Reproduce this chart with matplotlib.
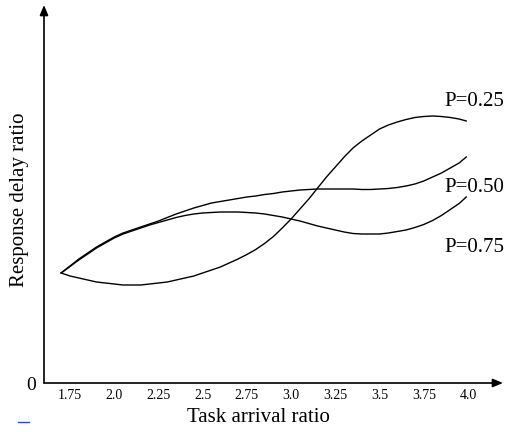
import matplotlib
matplotlib.use('Agg')
import matplotlib.pyplot as plt
from matplotlib.lines import Line2D

plt.rcParams['font.family'] = ['Liberation Serif', 'DejaVu Serif']

# Values (y in arbitrary units, 0 at the x axis)
arrival = [1.70, 1.75, 1.80, 1.85, 1.90, 1.95, 2.00, 2.05, 2.10, 2.15, 2.20, 2.25,
           2.30, 2.35, 2.40, 2.45, 2.50, 2.55, 2.60, 2.65, 2.70, 2.75, 2.80, 2.85,
           2.90, 2.95, 3.00, 3.05, 3.10, 3.15, 3.20, 3.25, 3.30, 3.35, 3.40, 3.45,
           3.50, 3.55, 3.60, 3.65, 3.70, 3.75, 3.80, 3.85, 3.90, 3.95, 3.99]

delay_p25 = [1.10, 1.07, 1.05, 1.03, 1.01, 1.00, 0.99, 0.98, 0.98, 0.98, 0.99, 1.00,
             1.01, 1.03, 1.05, 1.07, 1.10, 1.13, 1.16, 1.20, 1.24, 1.285, 1.335, 1.395,
             1.465, 1.55, 1.64, 1.74, 1.84, 1.95, 2.06, 2.16, 2.26, 2.35, 2.42, 2.48,
             2.54, 2.58, 2.61, 2.635, 2.655, 2.665, 2.67, 2.665, 2.655, 2.64, 2.62]

delay_p50 = [1.10, 1.17, 1.24, 1.30, 1.36, 1.41, 1.46, 1.50, 1.53, 1.56, 1.59, 1.62,
             1.655, 1.69, 1.72, 1.75, 1.775, 1.80, 1.815, 1.83, 1.845, 1.86, 1.87, 1.885,
             1.895, 1.91, 1.92, 1.93, 1.935, 1.94, 1.94, 1.94, 1.94, 1.94, 1.935, 1.935,
             1.94, 1.945, 1.955, 1.97, 1.99, 2.02, 2.06, 2.10, 2.15, 2.20, 2.26]

delay_p75 = [1.10, 1.165, 1.23, 1.29, 1.35, 1.40, 1.45, 1.49, 1.52, 1.55, 1.58, 1.605,
             1.63, 1.655, 1.675, 1.69, 1.70, 1.705, 1.71, 1.71, 1.71, 1.705, 1.70, 1.69,
             1.675, 1.66, 1.64, 1.62, 1.595, 1.57, 1.55, 1.53, 1.51, 1.495, 1.49, 1.49,
             1.49, 1.50, 1.515, 1.53, 1.555, 1.585, 1.625, 1.675, 1.735, 1.795, 1.86]

xticks = [1.75, 2.0, 2.25, 2.5, 2.75, 3.0, 3.25, 3.5, 3.75, 4.0]
xtick_labels = ['1.75', '2.0', '2.25', '2.5', '2.75', '3.0', '3.25', '3.5', '3.75', '4.0']

W, H = 507, 432
fig = plt.figure(figsize=(W / 100, H / 100), dpi=100)
ax = fig.add_axes([44 / W, (H - 383) / H, (503 - 44) / W, (383 - 5) / H])

ax.plot(arrival, delay_p25, color='black', lw=1.0)
ax.plot(arrival, delay_p50, color='black', lw=1.0)
ax.plot(arrival, delay_p75, color='black', lw=1.0)

ax.set_xlim(1.603, 4.198)
ax.set_ylim(0, 3.78)

for s in ax.spines.values():
    s.set_visible(False)

# axes drawn as arrows
ax.annotate('', xy=(1, 0), xytext=(0, 0), xycoords='axes fraction',
            arrowprops=dict(arrowstyle='-|>,head_length=0.6,head_width=0.25',
                            color='black', lw=1.2, shrinkA=0, shrinkB=0))
ax.annotate('', xy=(0, 1), xytext=(0, 0), xycoords='axes fraction',
            arrowprops=dict(arrowstyle='-|>,head_length=0.6,head_width=0.25',
                            color='black', lw=1.2, shrinkA=0, shrinkB=0))

ax.set_xticks(xticks)
ax.set_xticklabels(xtick_labels, fontsize=10)
ax.tick_params(axis='x', length=0, pad=4)
ax.set_yticks([0])
ax.set_yticklabels(['0'], fontsize=14)
ax.tick_params(axis='y', length=0, pad=6)

# curve labels
fig.text(444 / W, (H - 106) / H, 'P=0.25', fontsize=15, va='baseline', ha='left')
fig.text(444 / W, (H - 192) / H, 'P=0.50', fontsize=15, va='baseline', ha='left')
fig.text(444 / W, (H - 252) / H, 'P=0.75', fontsize=15, va='baseline', ha='left')

fig.text(258 / W, (H - 422) / H, 'Task arrival ratio', fontsize=15,
         va='baseline', ha='center')
fig.text(20 / W, (H - 200) / H, 'Response delay ratio', fontsize=15,
         rotation=90, va='center', ha='center')

# small blue dash in the lower left corner
fig.add_artist(Line2D([18 / W, 29 / W], [(H - 422) / H, (H - 422) / H],
                      color='#2a4bd0', lw=1.0))

fig.savefig('out.png', dpi=100)
